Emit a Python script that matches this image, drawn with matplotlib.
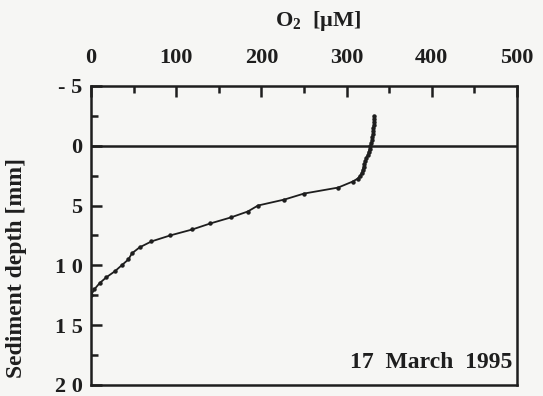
import numpy as np
import matplotlib.pyplot as plt
from matplotlib.ticker import MultipleLocator

# O2 microprofile, 17 March 1995
depth = [-2.5, -2.25, -2.0, -1.75, -1.5, -1.25, -1.0, -0.75, -0.5, -0.25,
         0.0, 0.25, 0.5, 0.75, 1.0, 1.25, 1.5, 1.75, 2.0, 2.25, 2.5, 2.75,
         3.0, 3.5, 4.0, 4.5, 5.0, 5.5, 6.0, 6.5, 7.0, 7.5, 8.0, 8.5,
         9.0, 9.5, 10.0, 10.5, 11.0, 11.5, 12.0, 12.5]
o2 = [332, 332, 332, 332, 331, 331, 331, 330, 330, 329,
      328, 327, 326, 325, 323, 322, 321, 320, 319, 318, 316, 313,
      307, 290, 250, 227, 196, 184, 164, 140, 119, 93, 71, 57,
      48, 44, 36, 28, 18, 10, 4, 0]

x_ticks = [0, 100, 200, 300, 400, 500]
y_ticks = [-5, 0, 5, 10, 15, 20]
y_labels = ["- 5", "0", "5", "1 0", "1 5", "2 0"]

bg = "#f6f6f4"
ink = "#1e1e1e"
plt.rcParams["font.family"] = ["Liberation Serif", "DejaVu Serif"]
plt.rcParams["font.weight"] = "bold"
plt.rcParams["mathtext.fontset"] = "custom"
plt.rcParams["mathtext.rm"] = "Liberation Serif"
plt.rcParams["mathtext.bf"] = "Liberation Serif:bold"

fig = plt.figure(figsize=(5.43, 3.96), dpi=100, facecolor=bg)
ax = fig.add_axes([0.1676, 0.028, 0.7845, 0.755], facecolor=bg)

ax.plot(o2, depth, color=ink, lw=1.3, marker="o", ms=2.2, zorder=3)
ax.axhline(0, color=ink, lw=1.8)

ax.set_xlim(0, 500)
ax.set_ylim(20, -5)
ax.xaxis.tick_top()
ax.set_xticks(x_ticks)
ax.xaxis.set_minor_locator(MultipleLocator(50))
ax.set_yticks(y_ticks)
ax.set_yticklabels(y_labels)
ax.yaxis.set_minor_locator(MultipleLocator(2.5))

ax.tick_params(which="both", direction="in", colors=ink, width=1.8,
               labelsize=16, top=True, bottom=False, left=True, right=False)
ax.tick_params(which="major", length=8)
ax.tick_params(which="minor", length=5)
ax.tick_params(axis="x", pad=13)
ax.tick_params(axis="y", pad=6)
for lab in ax.get_xticklabels() + ax.get_yticklabels():
    lab.set_fontweight("bold")
for s in ax.spines.values():
    s.set_linewidth(1.8)
    s.set_color(ink)

ax.text(0.533, 1.217, "O$_\\mathbf{2}$  [µM]", transform=ax.transAxes,
        ha="center", va="center", fontsize=16, fontweight="bold", color=ink)
ax.text(-0.174, 0.391, "Sediment depth [mm]", transform=ax.transAxes,
        rotation=90, ha="center", va="center", fontsize=17,
        fontweight="bold", color=ink)
ax.text(0.99, 0.075, "17  March  1995", transform=ax.transAxes, ha="right",
        va="center", fontsize=17, fontweight="bold", color=ink)

fig.savefig("out.png", dpi=100, facecolor=bg)
